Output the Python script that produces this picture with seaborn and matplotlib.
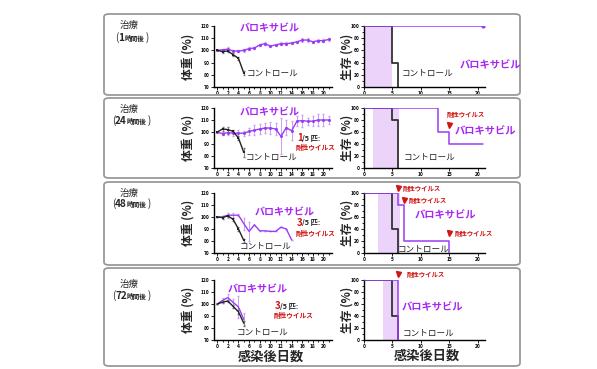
import matplotlib
matplotlib.use("Agg")
import matplotlib.pyplot as plt
import seaborn as sns
from matplotlib.patches import FancyBboxPatch
from matplotlib.ticker import MultipleLocator

W, H = 597, 369

# --- data -------------------------------------------------------------
HOURS = ["1", "24", "48", "72"]

# body weight (%), baloxavir group
BAL_DAYS = [list(range(22)), list(range(22)), list(range(15)), list(range(6))]
BAL_WEIGHT = [
    [100, 100.5, 101, 99.5, 99.5, 100, 101.5, 102, 104.5, 105.5, 103.5,
     104.5, 105.5, 105.5, 106, 107, 108.5, 108.5, 107, 108, 108, 109],
    [100, 98.6, 99.5, 99, 99, 99, 100.5, 101.5, 102.5, 103.3, 103.3,
     102.5, 96.4, 103.6, 101, 109, 109.5, 109, 109, 110, 110, 110],
    [100, 100, 101.5, 101.5, 101.5, 94.5, 88, 93.5, 88.5, 88.5, 88, 88,
     91.5, 90, 81],
    [100, 103, 105.3, 101.4, 97.5, 87.2],
]
BAL_SD = [
    [0, 1, 1.5, 1, 1, 1, 1, 1, 1, 1, 1, 1, 1, 1, 1, 1, 1.5, 1.5, 1, 1.5,
     1.5, 1.5],
    [0, 1, 2, 2, 3, 2, 3, 4, 4, 4, 5, 5, 15, 6, 8, 4, 5, 3, 4, 5, 5, 3],
    [0, 1, 2, 2, 1, 5, 8, 0, 0, 0, 0, 0, 0, 0, 0],
    [0, 2, 3, 3, 9, 5],
]
BAL_MARKERS = [True, True, False, False]

# body weight (%), control group
CTRL_DAYS = [0, 1, 2, 3, 4, 5]
CTRL_WEIGHT = [
    [100, 99, 99.5, 96.5, 93.5, 81.5],
    [100, 102.5, 102, 100.5, 95, 83],
    [100, 99.5, 101, 98, 90, 80.5],
    [100, 101.5, 102.5, 98, 93.5, 84],
]
CTRL_SD = [
    [0, 1, 1, 1, 1, 1.5],
    [0, 2, 2, 1.5, 2, 4],
    [0, 1, 1, 1, 1.5, 1],
    [0, 1, 1, 1, 1.5, 2],
]

# survival (%), step points
CTRL_SURV_DAYS = [[0, 5, 6], [0, 5, 6], [0, 5, 6], [0, 5, 6]]
CTRL_SURV = [[100, 40, 0], [100, 80, 0], [100, 40, 0], [100, 40, 0]]
BAL_SURV_DAYS = [[0, 21], [0, 13, 15, 21], [0, 6, 7, 15], [0, 6]]
BAL_SURV = [[100, 100], [100, 60, 40, 40], [100, 80, 20, 0], [100, 0]]

# treatment window shading (days)
SHADE = [(0, 5), (1.6, 6.2), (2.5, 6.3), (3.3, 6.0)]

# resistant-virus markers: (day, triangle y, text day, text y)
RESIST = [
    [],
    [(15, 72, 14.6, 90)],
    [(6, 108, 6.8, 108), (7, 88, 7.9, 88), (15, 33, 16, 33)],
    [(6, 110, 7.5, 110)],
]
RESIST_COUNT = ["", "1", "3", "3"]

# --- style --------------------------------------------------------------
PURPLE = "#9B3CF5"
PURPLE_TXT = "#A626F5"
SHADE_C = "#EBD3FA"
RED = "#D01515"
DARK = "#222222"

sns.set_theme(style="ticks")
plt.rcParams["font.family"] = ["Noto Sans CJK JP", "DejaVu Sans"]
plt.rcParams["font.weight"] = "bold"

fig = plt.figure(figsize=(W / 100, H / 100), dpi=100)


def px(x, y):
    return x / W, 1 - y / H


def ftext(x, y, s, **kw):
    return fig.text(*px(x, y), s, **kw)


# row frames
BOXES = [(14, 95), (98, 178), (182, 265), (268, 366)]
for top, bot in BOXES:
    x0, y0 = px(104, bot)
    fig.patches.append(FancyBboxPatch(
        (x0, y0), (520 - 104) / W, (bot - top) / H,
        boxstyle="round,pad=0,rounding_size=0.008",
        transform=fig.transFigure, fill=False, ec="#9a9a9a", lw=1.3))

ROW_TOP = [26, 108, 193, 280]
ROW_BOT = [87, 168, 253, 340]


def style_axes(ax):
    sns.despine(ax=ax)
    for s in ("left", "bottom"):
        ax.spines[s].set_linewidth(1.0)
        ax.spines[s].set_color("black")
    ax.tick_params(which="both", length=2, width=0.6, pad=1,
                   labelsize=3.5, colors="black")
    ax.tick_params(which="minor", length=1.2)
    ax.set_xlabel("")
    ax.set_ylabel("")
    ax.set_facecolor("none")


for i in range(4):
    top, bot = ROW_TOP[i], ROW_BOT[i]
    h = (bot - top) / H

    # ---------------- weight panel ----------------
    ax = fig.add_axes([214 / W, 1 - bot / H, 118 / W, h])
    ax.errorbar(BAL_DAYS[i], BAL_WEIGHT[i], yerr=BAL_SD[i], fmt="none",
                ecolor="#C9A0F5", elinewidth=0.7, capsize=1, zorder=1)
    sns.lineplot(x=BAL_DAYS[i], y=BAL_WEIGHT[i], ax=ax, color=PURPLE,
                 lw=1.0, marker="o" if BAL_MARKERS[i] else None,
                 markersize=2.2, markeredgewidth=0, zorder=3)
    ax.errorbar(CTRL_DAYS, CTRL_WEIGHT[i], yerr=CTRL_SD[i], fmt="none",
                ecolor="#777777", elinewidth=0.6, capsize=1, zorder=2)
    sns.lineplot(x=CTRL_DAYS, y=CTRL_WEIGHT[i], ax=ax, color=DARK, lw=1.0,
                 marker="s" if i < 3 else None, markersize=1.8,
                 markeredgewidth=0, zorder=4)
    ax.set_xlim(-0.6, 21.6)
    ax.set_ylim(70, 120)
    ax.xaxis.set_major_locator(MultipleLocator(2))
    ax.xaxis.set_minor_locator(MultipleLocator(1))
    ax.yaxis.set_major_locator(MultipleLocator(10))
    style_axes(ax)

    # ---------------- survival panel ----------------
    sx = fig.add_axes([364 / W, 1 - bot / H, 121 / W, h])
    sx.axvspan(*SHADE[i], color=SHADE_C, lw=0, zorder=0)
    sns.lineplot(x=BAL_SURV_DAYS[i], y=BAL_SURV[i], ax=sx, color=PURPLE,
                 lw=1.1, drawstyle="steps-post", zorder=3)
    sns.lineplot(x=CTRL_SURV_DAYS[i], y=CTRL_SURV[i], ax=sx, color="#333333",
                 lw=1.3, drawstyle="steps-post", zorder=2)
    if i == 0:
        sx.plot(BAL_SURV_DAYS[i][-1], BAL_SURV[i][-1], "o", color=PURPLE,
                ms=2, zorder=4)
    for d, ty, tx, txy in RESIST[i]:
        sx.plot(d, ty, marker="v", color=RED, ms=3.6, clip_on=False, zorder=5)
        sx.text(tx, txy, "耐性ウイルス", color=RED, fontsize=4.6,
                fontweight="bold", va="center", ha="left", clip_on=False)
    sx.set_xlim(0, 21.3)
    sx.set_ylim(0, 100)
    sx.xaxis.set_major_locator(MultipleLocator(5))
    sx.yaxis.set_major_locator(MultipleLocator(20))
    sx.yaxis.set_minor_locator(MultipleLocator(10))
    style_axes(sx)

    # axis titles
    ftext(188, (top + bot) / 2, "体重 (%)", rotation=90, ha="center",
          va="center", fontsize=8.5, fontweight="bold")
    ftext(347, (top + bot) / 2, "生存 (%)", rotation=90, ha="center",
          va="center", fontsize=8.5, fontweight="bold")

# row titles: "(" + hours (bold) + small "時間後" + ")"
TITLE_Y = [(25, 41), (109, 124), (193, 207), (284, 299)]
TITLE_X = [115, 112, 112, 112]
for i, (y1, y2) in enumerate(TITLE_Y):
    ftext(129, y1, "治療", ha="center", va="center", fontsize=6.8,
          fontweight="normal")
    x = TITLE_X[i]
    nw = 5 * len(HOURS[i])
    ftext(x, y2, "(", fontsize=7, fontweight="normal", va="baseline")
    ftext(x + 3, y2, HOURS[i], fontsize=7.2, fontweight="bold",
          va="baseline")
    ftext(x + 5 + nw, y2, "時間後", fontsize=4.8, fontweight="bold",
          va="baseline")
    ftext(x + 26 + nw, y2, ")", fontsize=7, fontweight="normal",
          va="baseline")

# weight panel labels
BAL_LBL_W = [(270, 28), (270, 112), (285, 212), (258, 289)]
CTRL_LBL_W = [(273, 73), (272, 157), (266, 246), (263, 332)]
COUNT_POS = [None, (297, 138, 147), (297, 223, 233), (275, 306, 315)]
for i in range(4):
    ftext(*BAL_LBL_W[i], "バロキサビル", color=PURPLE_TXT, fontsize=7.2,
          fontweight="bold", ha="center", va="center")
    ftext(*CTRL_LBL_W[i], "コントロール", color=DARK, fontsize=6.2,
          fontweight="normal", ha="center", va="center")
    if COUNT_POS[i]:
        x, y1, y2 = COUNT_POS[i]
        ftext(x, y1, RESIST_COUNT[i], color=RED, fontsize=7,
              fontweight="bold", ha="left", va="center")
        ftext(x + 5, y1, "/5 匹:", color=DARK, fontsize=5.2,
              fontweight="bold", ha="left", va="center")
        ftext(x - 1, y2, "耐性ウイルス", color=RED, fontsize=4.8,
              fontweight="bold", ha="left", va="center")

# survival panel labels
BAL_LBL_S = [(490, 65), (485, 131), (445, 215), (432, 307)]
CTRL_LBL_S = [(428, 73), (430, 157), (424, 249), (429, 333)]
for i in range(4):
    ftext(*BAL_LBL_S[i], "バロキサビル", color=PURPLE_TXT, fontsize=7.4,
          fontweight="bold", ha="center", va="center")
    ftext(*CTRL_LBL_S[i], "コントロール", color=DARK, fontsize=6.2,
          fontweight="normal", ha="center", va="center")

ftext(271, 357, "感染後日数", fontsize=9.5, fontweight="bold",
      ha="center", va="center")
ftext(427, 356, "感染後日数", fontsize=9.5, fontweight="bold",
      ha="center", va="center")

fig.savefig("out.png", dpi=100)
